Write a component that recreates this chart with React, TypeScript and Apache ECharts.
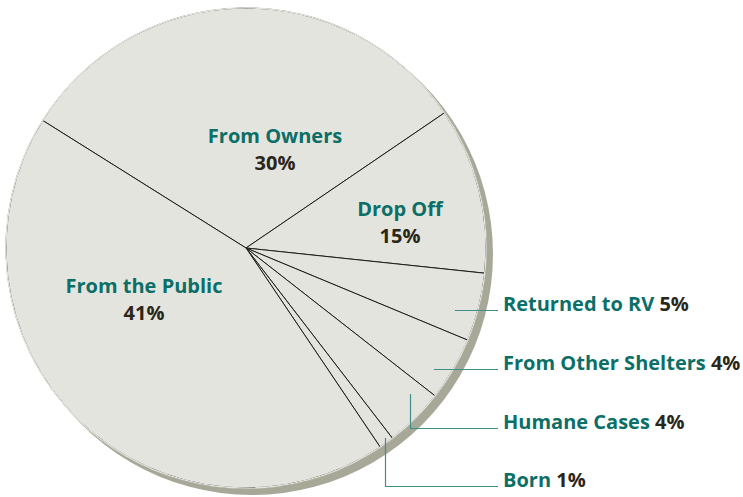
import React, { useEffect, useRef } from 'react';
import * as echarts from 'echarts';

// ---- data ----
const categories = [
  'From Owners',
  'Drop Off',
  'Returned to RV',
  'From Other Shelters',
  'Humane Cases',
  'Born',
  'From the Public',
];
// slice sizes as drawn (degrees of the circle expressed in %)
const sliceShares = [31.6, 11.2, 4.6, 4.3, 4.0, 1.0, 43.4];
// printed percentages
const percentLabels = ['30%', '15%', '5%', '4%', '4%', '1%', '41%'];

// ---- styles / layout ----
const TEAL = '#0b6f67';
const DARK = '#2a2619';
const FILL = '#e4e4de';
const SHADOW = '#a8a899';
const FONT = '"Open Sans", "Noto Sans", sans-serif';
const FONT_SIZE = 20;
const CX = 246;
const CY = 248;
const R = 240;
const START_ANGLE = 147.9;

// inside labels: [x, y of name]; percent drawn 27px lower
const insidePos: Record<number, [number, number]> = {
  0: [275, 135],
  1: [400, 208],
  6: [144, 285],
};
// outside labels (index -> [x, y])
const outsidePos: Record<number, [number, number]> = {
  2: [503, 303],
  3: [503, 362],
  4: [503, 421],
  5: [503, 479],
};
const leaders: number[][][] = [
  [[455, 310.5], [498, 310.5]],
  [[434, 369.5], [498, 369.5]],
  [[410.5, 394], [410.5, 428.5], [498, 428.5]],
  [[385.5, 438], [385.5, 486.5], [498, 486.5]],
];

export default function App() {
  const ref = useRef<HTMLDivElement>(null);
  useEffect(() => {
    if (!ref.current) return;
    const chart = echarts.init(ref.current, undefined, { renderer: 'svg' });
    const font = `bold ${FONT_SIZE}px ${FONT}`;

    const graphics: any[] = [];
    Object.keys(insidePos).forEach((k) => {
      const i = Number(k);
      const [x, y] = insidePos[i];
      graphics.push({
        type: 'text',
        x,
        y,
        z: 10,
        style: {
          text: categories[i],
          fill: TEAL,
          font,
          textAlign: 'center',
          textVerticalAlign: 'middle',
        },
      });
      graphics.push({
        type: 'text',
        x,
        y: y + 27,
        z: 10,
        style: {
          text: percentLabels[i],
          fill: DARK,
          font,
          textAlign: 'center',
          textVerticalAlign: 'middle',
        },
      });
    });
    Object.keys(outsidePos).forEach((k) => {
      const i = Number(k);
      const [x, y] = outsidePos[i];
      graphics.push({
        type: 'text',
        x,
        y,
        z: 10,
        style: {
          text: `{n|${categories[i]} }{p|${percentLabels[i]}}`,
          textAlign: 'left',
          textVerticalAlign: 'middle',
          rich: {
            n: { fill: TEAL, font },
            p: { fill: DARK, font },
          },
        },
      });
    });
    leaders.forEach((pts) => {
      graphics.push({
        type: 'polyline',
        z: 10,
        shape: { points: pts },
        style: { stroke: '#3f8f88', lineWidth: 1.2, fill: null },
      });
    });

    chart.setOption({
      animation: false,
      backgroundColor: '#ffffff',
      series: [
        {
          type: 'pie',
          silent: true,
          z: 1,
          center: [CX + 6, CY + 6],
          radius: R + 1,
          label: { show: false },
          labelLine: { show: false },
          itemStyle: { color: SHADOW, borderWidth: 0 },
          data: [{ value: 1, name: 'shadow' }],
        },
        {
          type: 'pie',
          silent: true,
          z: 2,
          center: [CX, CY],
          radius: R,
          startAngle: START_ANGLE,
          clockwise: true,
          avoidLabelOverlap: false,
          label: { show: false },
          labelLine: { show: false },
          itemStyle: { color: FILL, borderColor: '#1f1f1a', borderWidth: 1 },
          data: categories.map((name, i) => ({ name, value: sliceShares[i] })),
        },
        {
          type: 'pie',
          silent: true,
          z: 3,
          center: [CX, CY],
          radius: [R - 0.6, R + 0.8],
          label: { show: false },
          labelLine: { show: false },
          itemStyle: { color: FILL, borderWidth: 0 },
          data: [{ value: 1, name: 'rim' }],
        },
      ],
      graphic: graphics,
    });
    return () => chart.dispose();
  }, []);
  return <div ref={ref} style={{ width: 743, height: 497, position: 'absolute', left: 0, top: 0 }} />;
}
